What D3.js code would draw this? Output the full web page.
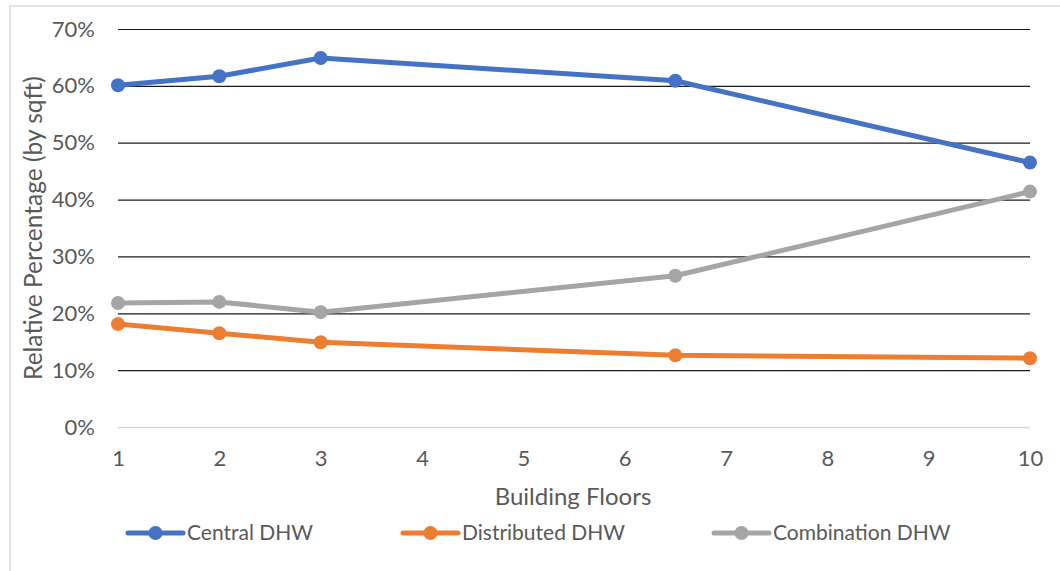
<!DOCTYPE html>
<html>
<head>
<meta charset="utf-8">
<script src="https://cdn.jsdelivr.net/npm/d3@7"></script>
<style>
  html, body { margin: 0; padding: 0; background: #fff; }
  svg { display: block; }
  text { font-family: Lato, "Open Sans", sans-serif; fill: #595959; }
</style>
</head>
<body>
<svg id="chart" width="1060" height="571"></svg>
<script>
// Building floor counts (x values)
const floors = [1, 2, 3, 6.5, 10];

// Relative share of floor area by DHW system type
const centralDHW     = [0.601, 0.617, 0.649, 0.609, 0.465];
const distributedDHW = [0.181, 0.165, 0.149, 0.126, 0.121];
const combinationDHW = [0.218, 0.220, 0.202, 0.266, 0.414];

const seriesNames  = ["Central DHW", "Distributed DHW", "Combination DHW"];
const seriesColors = ["#4472C4", "#ED7D31", "#A5A5A5"];

const xTicks = [1, 2, 3, 4, 5, 6, 7, 8, 9, 10];
const yTicks = [0, 0.1, 0.2, 0.3, 0.4, 0.5, 0.6, 0.7];

const seriesValues = [centralDHW, distributedDHW, combinationDHW];

const svg = d3.select("#chart");
const W = 1060, H = 571;

// chart frame (open at right and bottom)
svg.append("rect")
  .attr("x", 10).attr("y", 6)
  .attr("width", W + 20).attr("height", H + 20)
  .attr("fill", "#fff").attr("stroke", "#d9d9d9").attr("stroke-width", 1.5);

const plot = { left: 118, right: 1030, top: 29, bottom: 427 };

const x = d3.scaleLinear().domain([1, 10]).range([plot.left, plot.right]);
const y = d3.scaleLinear().domain([0, 0.7]).range([plot.bottom, plot.top]);

const tickFont = 22;

// horizontal gridlines with percentage labels
const yAxis = d3.axisLeft(y)
  .tickValues(yTicks)
  .tickSize(-(plot.right - plot.left))
  .tickFormat(d3.format(".0%"))
  .tickPadding(23);

const gy = svg.append("g")
  .attr("transform", `translate(${plot.left},0)`)
  .call(yAxis);
gy.select(".domain").remove();
gy.selectAll(".tick line")
  .attr("stroke", d => d === 0 ? "#d9d9d9" : "#1a1a1a")
  .attr("stroke-width", d => d === 0 ? 1.5 : 1.2);
gy.selectAll(".tick text")
  .attr("font-size", tickFont)
  .attr("fill", "#595959")
  .attr("font-family", "Lato, 'Open Sans', sans-serif");

// x axis labels
const xAxis = d3.axisBottom(x)
  .tickValues(xTicks)
  .tickSize(0)
  .tickFormat(d3.format("d"))
  .tickPadding(23);

const gx = svg.append("g")
  .attr("transform", `translate(0,${plot.bottom})`)
  .call(xAxis);
gx.select(".domain").remove();
gx.selectAll(".tick text")
  .attr("font-size", tickFont)
  .attr("fill", "#595959")
  .attr("font-family", "Lato, 'Open Sans', sans-serif");

// axis titles
svg.append("text")
  .attr("x", (plot.left + plot.right) / 2 - 1)
  .attr("y", 505)
  .attr("text-anchor", "middle")
  .attr("font-size", 24)
  .text("Building Floors");

svg.append("text")
  .attr("transform", `translate(33,228) rotate(-90)`)
  .attr("text-anchor", "middle")
  .attr("dy", "0.35em")
  .attr("font-size", 24.5)
  .text("Relative Percentage (by sqft)");

// series lines and markers
const line = d3.line()
  .x(d => x(d[0]))
  .y(d => y(d[1]));

seriesValues.forEach((vals, i) => {
  const pts = floors.map((f, j) => [f, vals[j]]);
  const g = svg.append("g");
  g.append("path")
    .datum(pts)
    .attr("d", line)
    .attr("fill", "none")
    .attr("stroke", seriesColors[i])
    .attr("stroke-width", 5)
    .attr("stroke-linecap", "round")
    .attr("stroke-linejoin", "round");
  g.selectAll("circle")
    .data(pts)
    .join("circle")
    .attr("cx", d => x(d[0]))
    .attr("cy", d => y(d[1]))
    .attr("r", 7)
    .attr("fill", seriesColors[i]);
});

// legend
const legendX = [128, 403, 714];
const legendY = 533;
seriesNames.forEach((name, i) => {
  const g = svg.append("g").attr("transform", `translate(${legendX[i]},${legendY})`);
  g.append("line")
    .attr("x1", 0).attr("x2", 55)
    .attr("y1", 0).attr("y2", 0)
    .attr("stroke", seriesColors[i])
    .attr("stroke-width", 5)
    .attr("stroke-linecap", "round");
  g.append("circle")
    .attr("cx", 27.5).attr("cy", 0).attr("r", 7)
    .attr("fill", seriesColors[i]);
  g.append("text")
    .attr("x", 59).attr("y", 0)
    .attr("dy", "0.35em")
    .attr("font-size", 21)
    .text(name);
});
</script>
</body>
</html>
